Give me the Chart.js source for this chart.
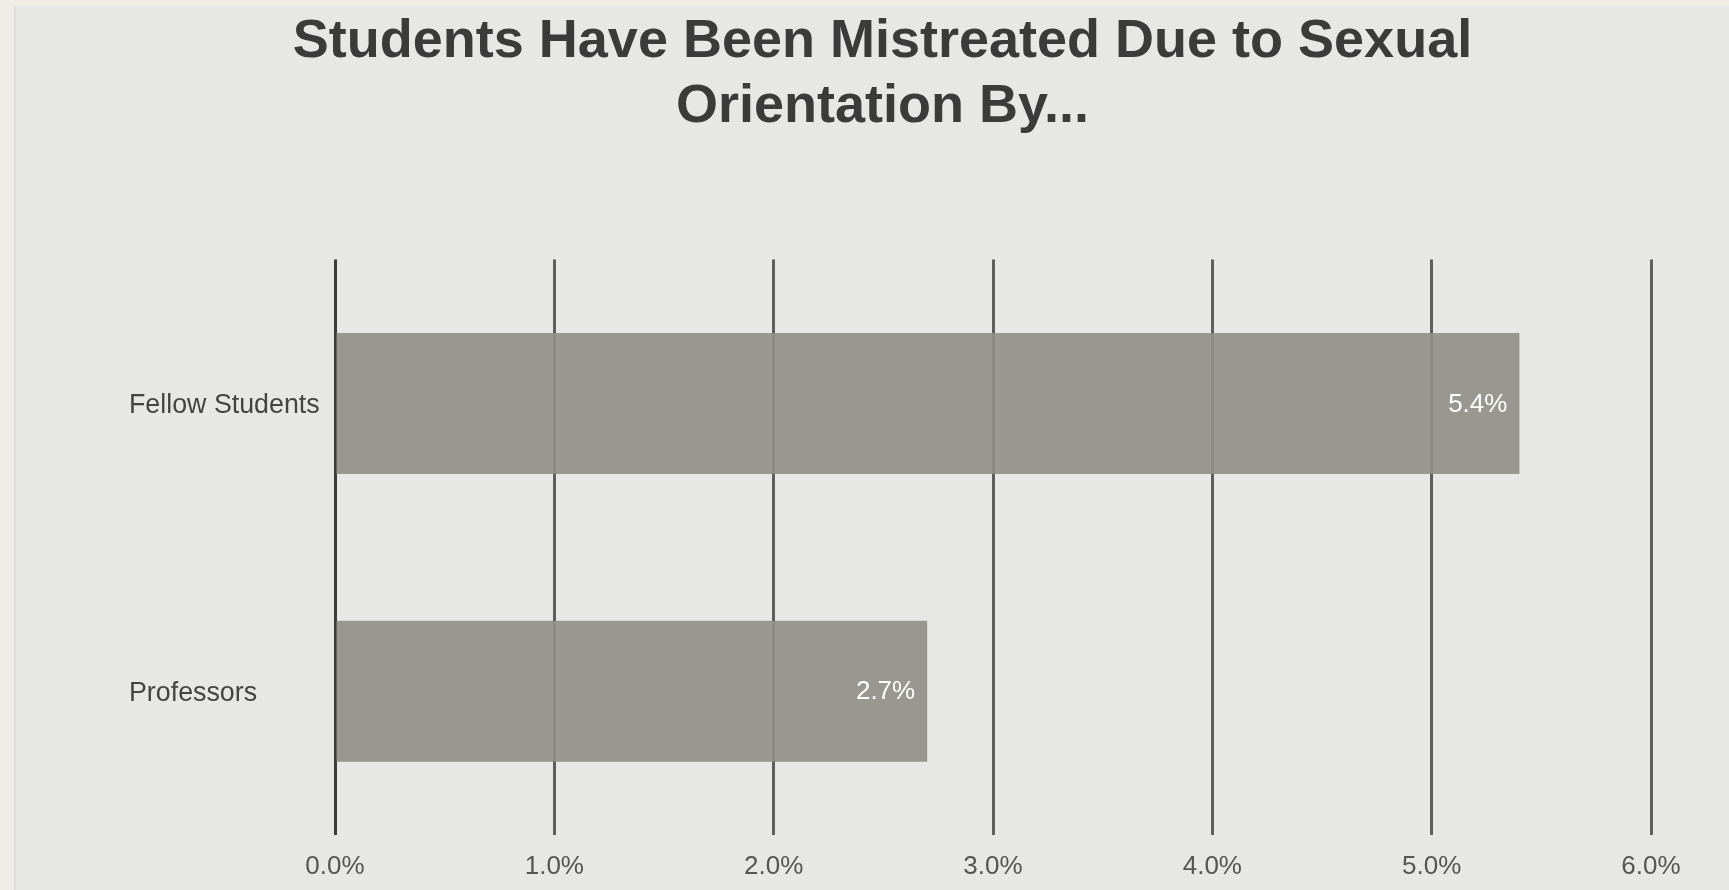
<!DOCTYPE html>
<html>
<head>
<meta charset="utf-8">
<script src="https://cdn.jsdelivr.net/npm/chart.js@4/dist/chart.umd.min.js"></script>
<style>
  html, body { margin: 0; padding: 0; width: 1729px; height: 890px; overflow: hidden; background: #efede6; }
  #panel { position: absolute; left: 14px; top: 6px; width: 1715px; height: 884px; background: #e7e7e5; border-left: 2px solid #dededc; box-sizing: border-box; }
  #wrap { position: absolute; left: 14px; top: 0; width: 1715px; height: 890px; }
</style>
</head>
<body>
<div id="panel"></div>
<div id="wrap"><canvas id="chart" width="1715" height="890"></canvas></div>
<script>
const titleLines = ['Students Have Been Mistreated Due to Sexual ', 'Orientation By... '];
const categories = ['Fellow Students', 'Professors'];
const percentages = [5.4, 2.7];
const axisTicks = [0, 1, 2, 3, 4, 5, 6];

const FONT = '"Liberation Sans", Arial, sans-serif';
const fmt = v => v.toFixed(1) + '%';

// value labels drawn inside the end of each bar
const barValueLabels = {
  id: 'barValueLabels',
  afterDatasetsDraw(chart) {
    const ctx = chart.ctx;
    const meta = chart.getDatasetMeta(0);
    ctx.save();
    ctx.font = '26px ' + FONT;
    ctx.fillStyle = '#ffffff';
    ctx.textAlign = 'right';
    ctx.textBaseline = 'middle';
    meta.data.forEach((bar, i) => {
      ctx.fillText(fmt(percentages[i]), bar.x - 12, bar.y + 1);
    });
    ctx.restore();
  }
};

new Chart(document.getElementById('chart'), {
  type: 'bar',
  data: {
    labels: categories,
    datasets: [{
      data: percentages,
      backgroundColor: 'rgba(143,143,136,0.905)',
      borderWidth: 0,
      categoryPercentage: 1,
      barPercentage: 0.49
    }]
  },
  options: {
    indexAxis: 'y',
    responsive: false,
    animation: false,
    devicePixelRatio: 1,
    layout: { padding: { left: 115, right: 78, top: 0, bottom: 0 } },
    plugins: {
      legend: { display: false },
      tooltip: { enabled: false },
      title: {
        display: true,
        text: titleLines,
        color: '#3b3b3b',
        font: { family: FONT, size: 54, weight: 'bold', lineHeight: 1.2 },
        padding: { top: 10, bottom: 120 }
      }
    },
    scales: {
      x: {
        min: axisTicks[0],
        max: axisTicks[axisTicks.length - 1],
        afterBuildTicks: s => { s.ticks = axisTicks.map(v => ({ value: v })); },
        afterFit: s => { s.height = 55; },
        border: { display: false },
        grid: {
          drawTicks: false,
          lineWidth: 3,
          color: ctx => ctx.tick && ctx.tick.value === 0 ? '#3c3c3c' : '#5e5e5e'
        },
        ticks: {
          padding: 16,
          color: '#555555',
          font: { family: FONT, size: 26 },
          callback: v => fmt(v)
        }
      },
      y: {
        afterFit: s => { s.width = 206; },
        border: { display: false },
        grid: { display: false, drawTicks: false },
        ticks: {
          crossAlign: 'far',
          labelOffset: 2,
          color: '#444444',
          font: { family: FONT, size: 26.8 }
        }
      }
    }
  },
  plugins: [barValueLabels]
});
</script>
</body>
</html>
